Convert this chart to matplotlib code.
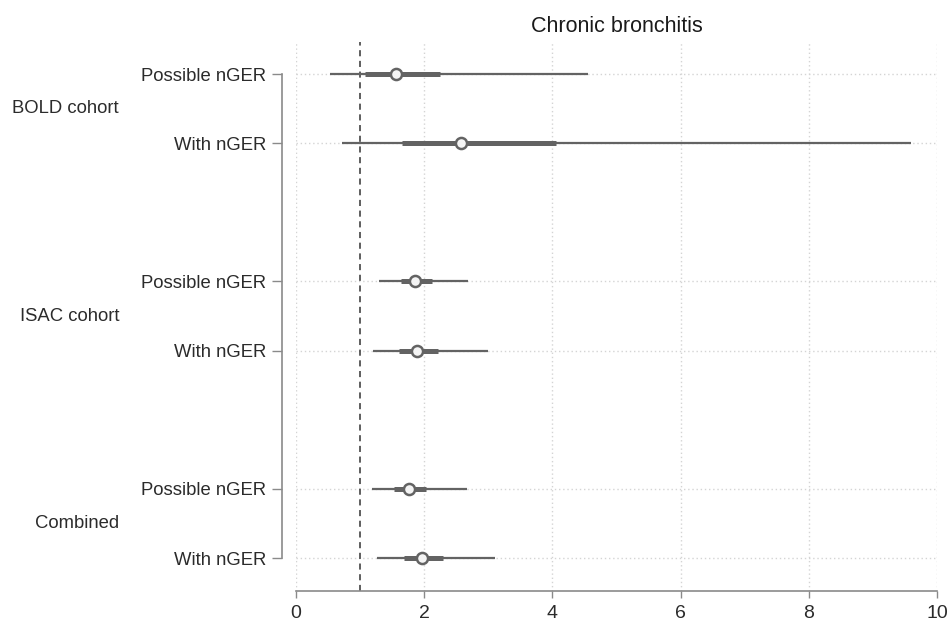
import matplotlib
matplotlib.use("Agg")
import matplotlib.pyplot as plt
import matplotlib.transforms as mtransforms

plt.rcParams['font.family'] = ['Liberation Sans', 'DejaVu Sans']

# Data
groups = ["BOLD cohort", "ISAC cohort", "Combined"]
sub_labels = ["Possible nGER", "With nGER"] * 3
estimates = [1.56, 2.58, 1.86, 1.89, 1.77, 1.97]
ci_low = [0.53, 0.71, 1.30, 1.20, 1.18, 1.26]
ci_high = [4.55, 9.59, 2.69, 3.00, 2.66, 3.11]
inner_low = [1.08, 1.66, 1.64, 1.61, 1.53, 1.69]
inner_high = [2.25, 4.05, 2.12, 2.21, 2.03, 2.30]
row_pos = [0, 1, 3, 4, 6, 7]
group_pos = [0.5, 3.5, 6.5]
x_ticks = [0, 2, 4, 6, 8, 10]
ref_value = 1
title = "Chronic bronchitis"

W, H = 949, 627
fig = plt.figure(figsize=(W / 100, H / 100), dpi=100)
ax = fig.add_axes([296 / W, 1 - 591 / H, (937 - 296) / W, (591 - 42) / H])

line_col = "#636363"
text_col = "#2b2b2b"
grid_col = "#d4d4d4"

ax.set_xlim(0, 10)
ax.set_ylim(7.477, -0.463)

# grid
for xv in x_ticks:
    ax.axvline(xv, color=grid_col, lw=1.0, ls=(0, (1, 2)), zorder=0)
for yv in row_pos:
    ax.axhline(yv, color=grid_col, lw=1.0, ls=(0, (1, 2)), zorder=0)

# reference line
ax.axvline(ref_value, color="#333333", lw=1.1, ls=(0, (4, 3)), zorder=1)

# CIs
ax.hlines(row_pos, ci_low, ci_high, color=line_col, lw=1.6, zorder=2)
ax.hlines(row_pos, inner_low, inner_high, color=line_col, lw=3.6, zorder=3)
ax.plot(estimates, row_pos, 'o', ms=8, mfc='#f4f4f4', mec=line_col, mew=1.8, zorder=4,
        ls='none')

# spines
for s in ['top', 'right']:
    ax.spines[s].set_visible(False)
ax.spines['left'].set_position(('outward', 10.1))
ax.spines['left'].set_bounds(row_pos[0], row_pos[-1])
ax.spines['left'].set_color("#8a8a8a")
ax.spines['left'].set_linewidth(1.2)
ax.spines['bottom'].set_color("#8a8a8a")
ax.spines['bottom'].set_linewidth(1.2)

ax.set_yticks(row_pos)
ax.set_yticklabels(sub_labels)
ax.set_xticks(x_ticks)
ax.set_xticklabels([str(v) for v in x_ticks])
ax.tick_params(axis='y', direction='out', length=7.2, width=1.0, color="#8a8a8a",
               pad=4.3, labelsize=13.3, labelcolor=text_col)
ax.tick_params(axis='x', direction='out', length=5, width=1.0, color="#8a8a8a",
               pad=5, labelsize=14, labelcolor=text_col)

# group labels
trans = mtransforms.blended_transform_factory(fig.transFigure, ax.transData)
for g, gp in zip(groups, group_pos):
    ax.text(119 / W, gp, g, transform=trans, ha='right', va='center',
            fontsize=13.3, color=text_col)

ax.set_title(title, fontsize=15.5, color="#1a1a1a", pad=7)

fig.savefig("out.png", dpi=100, facecolor='white')
